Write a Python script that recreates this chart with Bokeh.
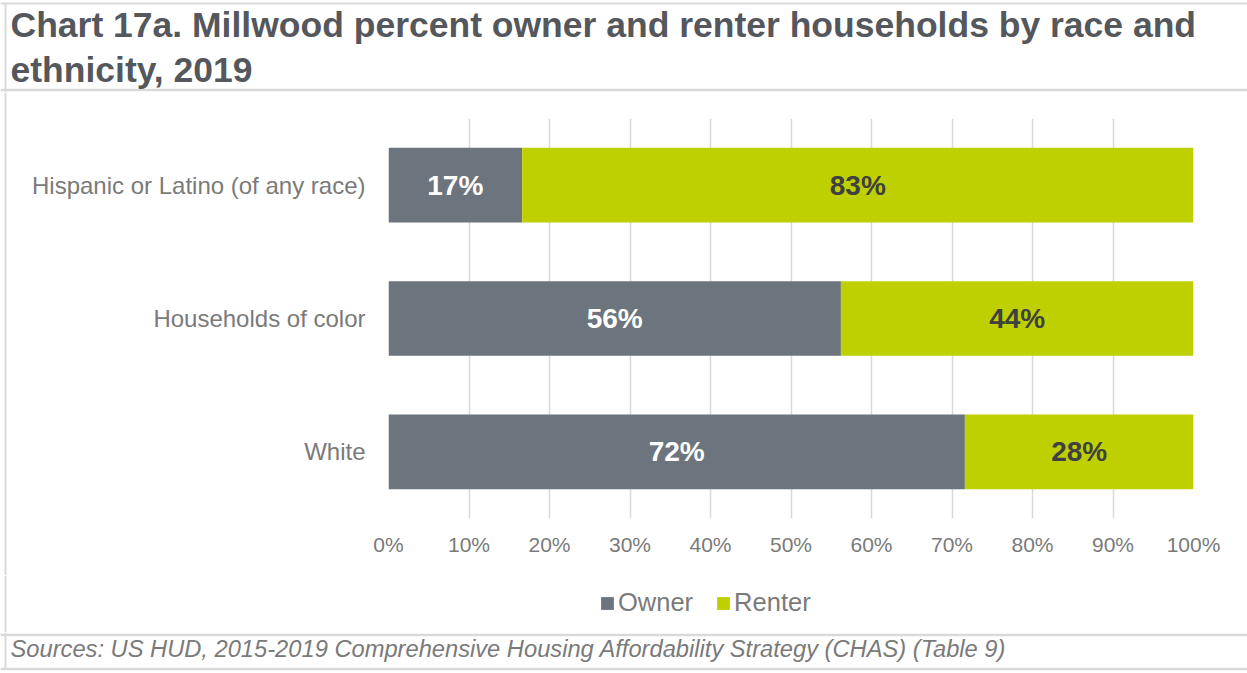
from bokeh.plotting import figure
from bokeh.layouts import column, row
from bokeh.models import (ColumnDataSource, Range1d, FactorRange, Label, Legend,
                          LegendItem, FixedTicker)
from bokeh.core.properties import value
from bokeh.embed import file_html
from bokeh.resources import INLINE

# ---------------- data ----------------
categories = ["White", "Households of color", "Hispanic or Latino (of any race)"]
owner = [71.6, 56.2, 16.6]
renter = [28.4, 43.8, 83.4]
series_names = ["Owner", "Renter"]
x_ticks = [0, 10, 20, 30, 40, 50, 60, 70, 80, 90, 100]
x_tick_labels = ["0%", "10%", "20%", "30%", "40%", "50%", "60%", "70%", "80%", "90%", "100%"]
title_lines = ["Chart 17a. Millwood percent owner and renter households by race and",
               "ethnicity, 2019"]
source_note = "Sources: US HUD, 2015-2019 Comprehensive Housing Affordability Strategy (CHAS) (Table 9)"

# ---------------- style ----------------
OWNER_C = "#6c757d"
RENTER_C = "#bed000"
GRID_C = "#d9d9d9"
TEXT_C = "#7a7a7a"
TITLE_C = "#54575c"
FONT = "Liberation Sans"

W = 1247
TOP_H, MAIN_H, LEG_H, BOT_H = 92, 483, 57, 41
LEFT_W = 8


def blank_fig(w, h):
    f = figure(width=w, height=h, output_backend="svg", toolbar_location=None,
               x_range=Range1d(0, w), y_range=Range1d(h, 0),
               x_axis_location=None, y_axis_location=None,
               min_border=0, min_border_left=0, min_border_right=0,
               min_border_top=0, min_border_bottom=0, frame_align=False)
    f.outline_line_color = None
    f.xgrid.visible = False
    f.ygrid.visible = False
    f.background_fill_color = "white"
    f.border_fill_color = "white"
    return f


src = ColumnDataSource(dict(
    cat=categories, owner=owner, renter=renter,
    r_left=owner, r_right=[o + r for o, r in zip(owner, renter)],
    o_mid=[o / 2 for o in owner],
    r_mid=[o + r / 2 for o, r in zip(owner, renter)],
    o_lab=[f"{round(o)}%" for o in owner],
    r_lab=[f"{round(r)}%" for r in renter],
))

# ---------------- title strip ----------------
top = blank_fig(W, TOP_H)
top.segment(x0=[0, 5], y0=[3, 3], x1=[W, 5], y1=[3, TOP_H], line_color=GRID_C, line_width=2)
top.segment(x0=[0], y0=[89.5], x1=[W], y1=[89.5], line_color=GRID_C, line_width=2.5)
top.add_layout(Label(x=10, y=24.5, text=title_lines[0], text_font=FONT,
                     text_font_style="bold", text_font_size="35.5px",
                     text_color=TITLE_C, text_baseline="alphabetic"))
top.add_layout(Label(x=10, y=69.5, text=title_lines[1], text_font=FONT,
                     text_font_style="bold", text_font_size="35.5px",
                     text_color=TITLE_C, text_baseline="alphabetic"))

# ---------------- left border strip ----------------
left = blank_fig(LEFT_W, MAIN_H)
left.segment(x0=[5], y0=[0], x1=[5], y1=[MAIN_H], line_color=GRID_C, line_width=2)

# ---------------- main chart ----------------
MW = W - LEFT_W
FL, FR = 380, 1185      # frame left/right inside main figure
FT, FB = 26, 426        # frame top/bottom inside main figure

p = figure(width=MW, height=MAIN_H, output_backend="svg", toolbar_location=None,
           x_range=Range1d(0, 100), y_range=FactorRange(*categories, range_padding=0),
           min_border_left=FL, min_border_right=MW - FR, min_border_top=FT,
           min_border_bottom=MAIN_H - FB, frame_align=False)
p.outline_line_color = None
p.background_fill_color = "white"
p.border_fill_color = "white"

p.hbar(y="cat", left=0, right="owner", height=0.56, source=src,
       fill_color=OWNER_C, line_color=None)
p.hbar(y="cat", left="r_left", right="r_right", height=0.56, source=src,
       fill_color=RENTER_C, line_color=None)

p.text(x="o_mid", y="cat", text="o_lab", source=src, text_align="center",
       text_baseline="middle", text_font=value(FONT), text_font_style="bold",
       text_font_size="28px", text_color="white")
p.text(x="r_mid", y="cat", text="r_lab", source=src, text_align="center",
       text_baseline="middle", text_font=value(FONT), text_font_style="bold",
       text_font_size="28px", text_color="#404040")

p.xaxis.ticker = FixedTicker(ticks=x_ticks)
p.xaxis.major_label_overrides = {t: l for t, l in zip(x_ticks, x_tick_labels)}
p.xaxis.axis_line_color = None
p.xaxis.major_tick_line_color = None
p.xaxis.minor_tick_line_color = None
p.xaxis.major_tick_out = 0
p.xaxis.major_label_standoff = 14
p.xaxis.major_label_text_font = FONT
p.xaxis.major_label_text_font_size = "21px"
p.xaxis.major_label_text_color = TEXT_C

p.yaxis.axis_line_color = None
p.yaxis.major_tick_line_color = None
p.yaxis.minor_tick_line_color = None
p.yaxis.major_tick_out = 0
p.yaxis.major_label_standoff = 23
p.yaxis.major_label_text_font = FONT
p.yaxis.major_label_text_font_size = "24px"
p.yaxis.major_label_text_color = TEXT_C

p.xgrid.ticker = FixedTicker(ticks=x_ticks)
p.xgrid.grid_line_color = GRID_C
p.xgrid.grid_line_width = 1.5
p.ygrid.grid_line_color = None

# ---------------- legend strip ----------------
leg = blank_fig(W, LEG_H)
leg.segment(x0=[5], y0=[0], x1=[5], y1=[LEG_H], line_color=GRID_C, line_width=2)
lr1 = leg.hbar(y="owner", left=0, right="owner", height=1, source=src,
               fill_color=OWNER_C, line_color=None, visible=False)
lr2 = leg.hbar(y="owner", left=0, right="renter", height=1, source=src,
               fill_color=RENTER_C, line_color=None, visible=False)
legend = Legend(items=[LegendItem(label=series_names[0], renderers=[lr1]),
                       LegendItem(label=series_names[1], renderers=[lr2])],
                orientation="horizontal", location=(599, 15),
                label_text_font=FONT, label_text_font_size="25.5px",
                label_text_color=TEXT_C, glyph_width=16, glyph_height=16,
                label_standoff=3, spacing=22, padding=0, margin=0,
                border_line_color=None, background_fill_alpha=0,
                click_policy="none")
leg.add_layout(legend, "center")

# ---------------- source strip ----------------
bot = blank_fig(W, BOT_H)
bot.segment(x0=[0, 0], y0=[2.5, 36.5], x1=[W, W], y1=[2.5, 36.5],
            line_color=GRID_C, line_width=2.5)
bot.segment(x0=[5], y0=[0], x1=[5], y1=[36.5], line_color=GRID_C, line_width=2)
bot.add_layout(Label(x=10, y=16.5, text=source_note, text_font=FONT,
                     text_font_style="italic", text_font_size="23.7px",
                     text_color=TEXT_C, text_baseline="alphabetic"))

layout = column(top, row(left, p, spacing=0), leg, bot, spacing=0)
open("out.html", "w").write(file_html(layout, INLINE))
